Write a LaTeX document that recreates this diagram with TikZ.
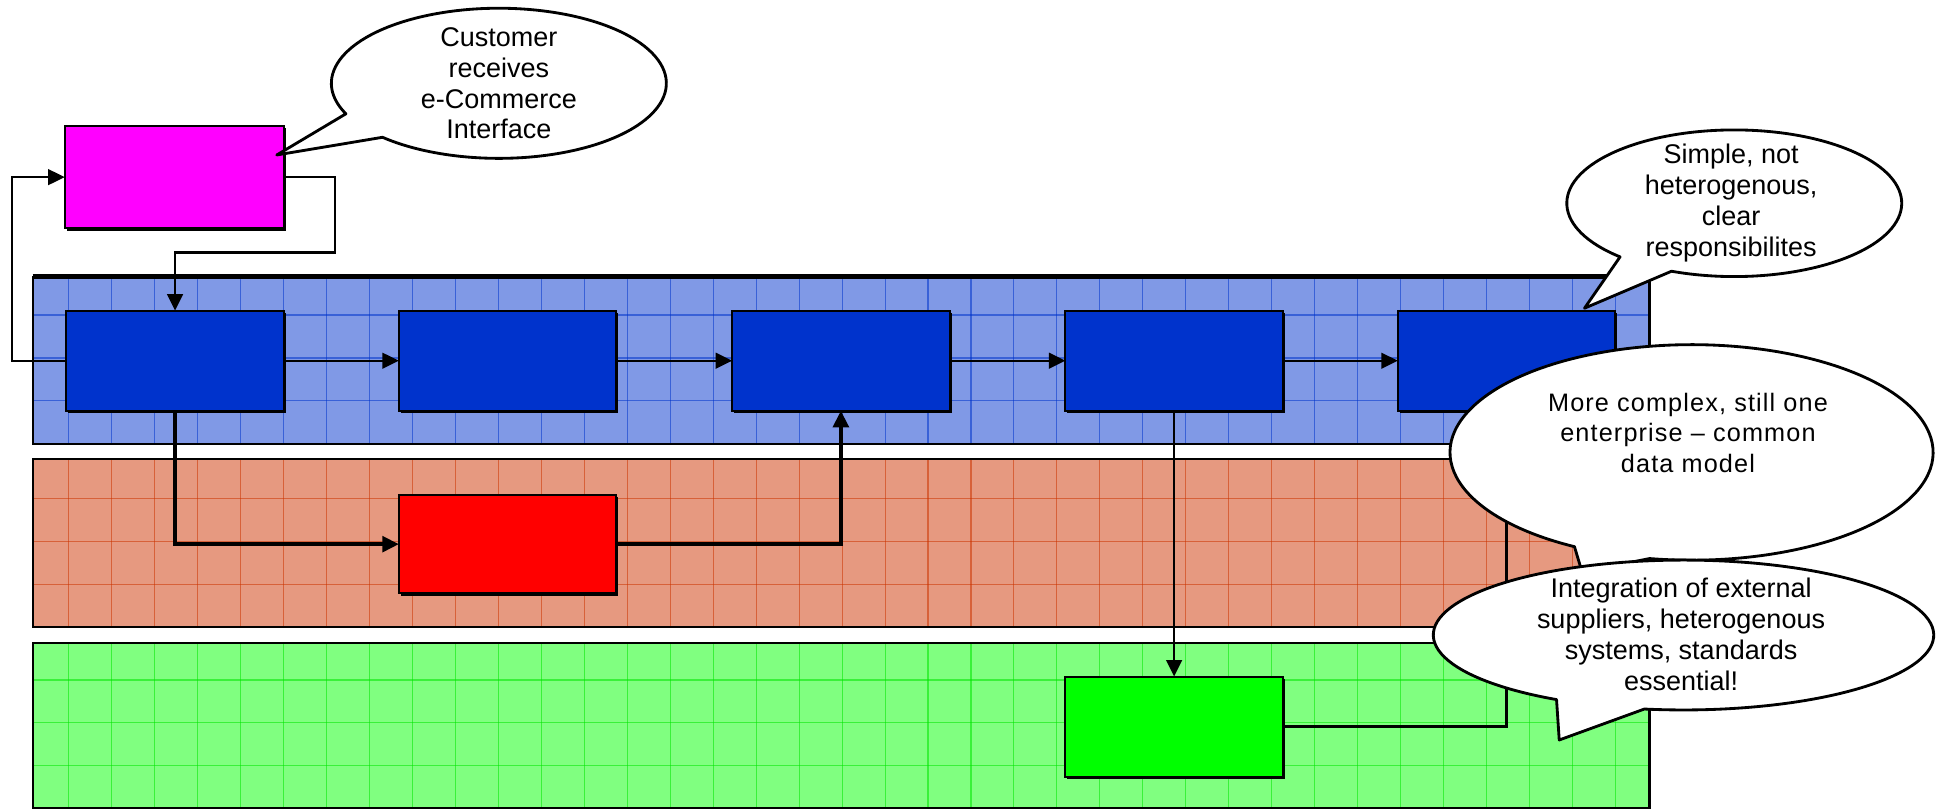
\documentclass[tikz,border=0pt]{standalone}
\usepackage{fontspec}
\setmainfont{Liberation Sans}
\usetikzlibrary{arrows.meta,shadows}
\definecolor{bandblue}{RGB}{128,153,230}
\definecolor{gridblue}{RGB}{0,51,204}
\definecolor{bandred}{RGB}{230,153,128}
\definecolor{gridred}{RGB}{204,51,0}
\definecolor{bandgreen}{RGB}{128,255,128}
\definecolor{gridgreen}{RGB}{0,230,0}
\definecolor{boxblue}{RGB}{0,51,204}
\definecolor{boxmagenta}{RGB}{255,0,255}
\definecolor{boxred}{RGB}{255,0,0}
\definecolor{boxgreen}{RGB}{0,255,0}
\begin{document}
\begin{tikzpicture}[x=0.01cm,y=-0.01cm,
  box/.style={draw=black,line width=0.45pt,inner sep=0pt,outer sep=0pt,
    minimum width=1.755cm,minimum height=0.808cm,
    drop shadow={shadow xshift=0.45pt,shadow yshift=-0.55pt,fill=black,opacity=1}},
  conn/.style={draw=black,line width=0.55pt},
  thickconn/.style={draw=black,line width=0.85pt},
  arr/.style={-{Triangle[length=3.8pt,width=3.6pt]}},
  callout/.style={draw=black,fill=white,line width=0.65pt,line join=round},
  ctext/.style={align=center,inner sep=0pt,font=\fontsize{6.2}{7.1}\selectfont},
  ctextwide/.style={align=center,inner sep=0pt,font=\fontsize{5.8}{7}\selectfont\addfontfeature{LetterSpace=4.5}},
  gridline/.style={line width=0.25pt,opacity=0.55},
  bandedge/.style={draw=black,line width=0.5pt}]
\useasboundingbox (0,0) rectangle (1568,654.3);

% ---- bands ----
\begin{scope}
  \clip (26.4,223.5) rectangle (1332.5,358.9);
  \fill[bandblue] (26.4,223.5) rectangle (1332.5,358.9);
  \foreach \k in {0,...,36} \draw[gridblue,gridline] ({55.7+34.7*\k},223.5) -- ({55.7+34.7*\k},358.9);
  \foreach \y in {254.5,289.2,323.9} \draw[gridblue,gridline] (26.4,\y) -- (1332.5,\y);
\end{scope}
\draw[bandedge] (26.4,223.5) rectangle (1332.5,358.9);
\draw[black,line width=1pt] (26.4,223.5) -- (1332.5,223.5);

\begin{scope}
  \clip (26.4,371) rectangle (1332.5,506.5);
  \fill[bandred] (26.4,371) rectangle (1332.5,506.5);
  \foreach \k in {0,...,36} \draw[gridred,gridline] ({55.7+34.7*\k},371) -- ({55.7+34.7*\k},506.5);
  \foreach \y in {402.6,437.3,472} \draw[gridred,gridline] (26.4,\y) -- (1332.5,\y);
\end{scope}
\draw[bandedge] (26.4,371) rectangle (1332.5,506.5);

\begin{scope}
  \clip (26.4,519.7) rectangle (1332.5,653);
  \fill[bandgreen] (26.4,519.7) rectangle (1332.5,653);
  \foreach \k in {0,...,36} \draw[gridgreen,gridline] ({55.7+34.7*\k},519.7) -- ({55.7+34.7*\k},653);
  \foreach \y in {549.3,584,618.7} \draw[gridgreen,gridline] (26.4,\y) -- (1332.5,\y);
\end{scope}
\draw[bandedge] (26.4,519.7) rectangle (1332.5,653);

% ---- boxes ----
\node[box,fill=boxmagenta,minimum width=1.774cm,minimum height=0.826cm] (mag) at (141,143.1) {};
\node[box,fill=boxblue] (b1) at (141.4,291.4) {};
\node[box,fill=boxblue] (b2) at (410,291.4) {};
\node[box,fill=boxblue] (b3) at (679.3,291.4) {};
\node[box,fill=boxblue] (b4) at (948.5,291.4) {};
\node[box,fill=boxblue] (b5) at (1217,291.4) {};
\node[box,fill=boxred,minimum height=0.794cm] (rb) at (410,439.6) {};
\node[box,fill=boxgreen] (gb) at (948.5,587) {};

% ---- connectors ----
\draw[conn,arr] (b1.east) -- (b2.west);
\draw[conn,arr] (b2.east) -- (b3.west);
\draw[conn,arr] (b3.east) -- (b4.west);
\draw[conn,arr] (b4.east) -- (b5.west);
\coordinate (c1) at (270.5,204);
\draw[conn,arr] (mag.east) -| (c1) -| (b1.north);
\coordinate (c2) at (9.7,291.4);
\draw[conn,arr] (b1.west) -- (c2) |- (mag.west);
\draw[thickconn,arr] (b1.south) |- (rb.west);
\draw[thickconn,arr] (rb.east) -| (b3.south);
\draw[conn,arr] (b4.south) -- (gb.north);
\draw[conn,arr] (gb.east) -| (b5.south);

% ---- callouts ----
\draw[callout] (1401,164.2) ++(-133:1.352cm and 0.592cm)
  arc[start angle=-133,end angle=-472,x radius=1.352cm,y radius=0.592cm]
  -- (1280,249) -- cycle;
\node[ctext] (t4) at (1398.5,164.3) {Simple, not\\heterogenous,\\clear\\responsibilites};

\draw[callout] (1366.5,365.5) ++(-119:1.95cm and 0.87cm)
  arc[start angle=-119,end angle=-460,x radius=1.95cm,y radius=0.87cm]
  -- (1278,462) -- cycle;
\node[ctextwide] (t2) at (1363.6,349.4) {More complex, still one\\enterprise -- common\\data model};

\draw[callout] (1360,513) ++(-120.5:2.02cm and 0.605cm)
  arc[start angle=-120.5,end angle=-459,x radius=2.02cm,y radius=0.605cm]
  -- (1259.6,597.8) -- cycle;
\node[ctext] (t3) at (1358,512.5) {Integration of external\\suppliers, heterogenous\\systems, standards\\essential!};

\draw[callout] (403,67.3) ++(-156:1.352cm and 0.606cm)
  arc[start angle=-156,end angle=-494,x radius=1.352cm,y radius=0.606cm]
  -- (223.6,125.2) -- cycle;
\node[ctext] (t1) at (403,67.3) {Customer\\receives\\e-Commerce\\Interface};
\end{tikzpicture}
\end{document}
